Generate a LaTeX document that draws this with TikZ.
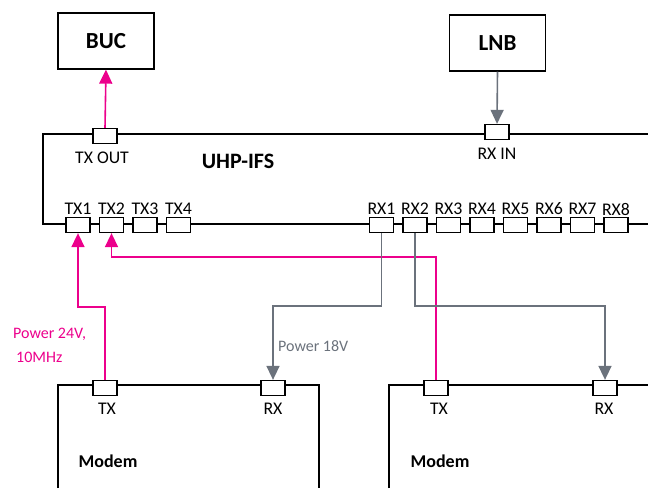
\documentclass[tikz,border=0pt]{standalone}
\usepackage{fontspec}
\setmainfont{Carlito}
\usetikzlibrary{arrows.meta,calc}
\definecolor{sigpink}{RGB}{236,0,140}
\definecolor{pwrgray}{RGB}{107,114,124}

\begin{document}
\begin{tikzpicture}[x=1pt,y=-1pt,
    box/.style={draw,line width=1.3pt},
    unit/.style={draw,line width=1.3pt,inner sep=0pt,minimum width=96pt,minimum height=56pt,font=\bfseries\fontsize{23}{26}\selectfont},
    port/.style={draw,fill=white,line width=1.3pt,minimum width=24pt,minimum height=15pt,inner sep=0pt},
    lbl/.style={inner sep=0pt,font=\fontsize{17.8}{20}\selectfont},
    head/.style={inner sep=0pt,font=\bfseries\fontsize{18}{22}\selectfont},
    txline/.style={draw=sigpink,line width=1.6pt,-{Triangle[length=14pt,width=13pt]}},
    rxline/.style={draw=pwrgray,line width=1.6pt,-{Triangle[length=14pt,width=13pt]}}]
    \useasboundingbox (0,0) rectangle (648,488);

    % outdoor units
    \node[unit] (buc) at (106,41) {BUC};
    \node[unit] (lnb) at (497.5,43) {LNB};

    % UHP-IFS chassis
    \draw[box] (648,134) -- (43,134) -- (43,224) -- (648,224);
    \node[head,font=\bfseries\fontsize{22}{26}\selectfont] (ifs) at (238,161) {UHP-IFS};
    \node[port] (txout) at (105,136) {};
    \node[lbl] (txoutl) at (102,158) {TX OUT};
    \node[port] (rxin) at (497,132) {};
    \node[lbl] (rxinl) at (497,154) {RX IN};
    \foreach \i in {1,...,4} {
        \node[port] (tx\i) at ({78+33.5*(\i-1)},225) {};
        \node[lbl] (txl\i) at ({78+33.5*(\i-1)},209) {TX\i};
    }
    \foreach \i in {1,...,8} {
        \node[port] (rx\i) at ({381.5+33.5*(\i-1)},225) {};
        \node[lbl] (rxl\i) at ({381.5+33.5*(\i-1)},209) {RX\i};
    }

    % modems
    \draw[box] (58,488) -- (58,385) -- (319,385) -- (319,488);
    \draw[box] (389,488) -- (389,385) -- (648,385);
    \node[port] (mtx1) at (105,388) {};
    \node[port] (mrx1) at (273,388) {};
    \node[port] (mtx2) at (436,388) {};
    \node[port] (mrx2) at (605,388) {};
    \node[lbl] (mtxl1) at (107,409) {TX};
    \node[lbl] (mrxl1) at (273,409) {RX};
    \node[lbl] (mtxl2) at (439,409) {TX};
    \node[lbl] (mrxl2) at (604,409) {RX};
    \node[head] (modem1) at (108,461) {Modem};
    \node[head] (modem2) at (440,461) {Modem};

    % connections
    \draw[txline] (txout.north) -- (buc.south);
    \draw[rxline] (lnb.south) -- (rxin.north);
    \draw[txline] (mtx1.north) -- (mtx1.north |- 0,307) -| (tx1.south);
    \draw[txline] (mtx2.north) -- (mtx2.north |- 0,257) -| (tx2.south);
    \draw[rxline] (rx1.south) -- (rx1.south |- 0,306) -| (mrx1.north);
    \draw[rxline] (rx2.south) -- (rx2.south |- 0,306) -| (mrx2.north);

    \node[inner sep=0pt,anchor=west,align=left,text=sigpink,font=\fontsize{16}{24}\selectfont] (pwr24) at (13,345) {Power 24V,\\\hspace{3pt}10MHz};
    \node[inner sep=0pt,anchor=west,text=pwrgray,font=\fontsize{16}{18}\selectfont] (pwr18) at (278,346) {Power 18V};
\end{tikzpicture}
\end{document}
